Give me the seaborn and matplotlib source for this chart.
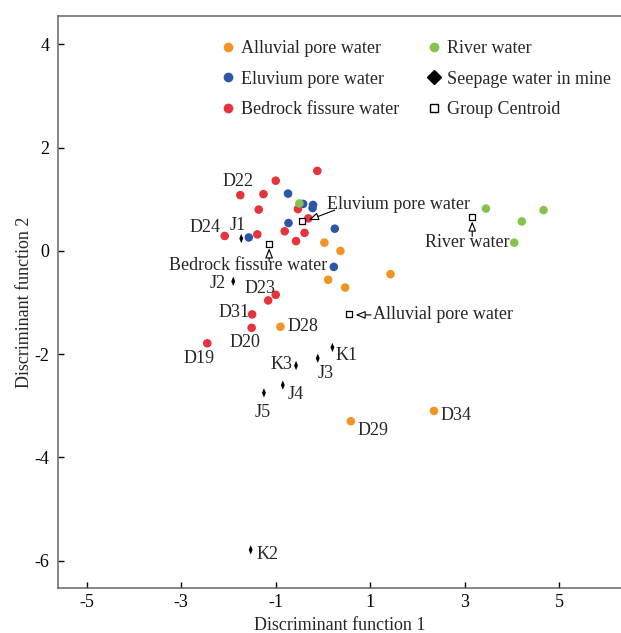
import matplotlib.pyplot as plt
import pandas as pd
import seaborn as sns
from matplotlib.lines import Line2D

# sample scores on the two discriminant functions
alluvial_x = [0.03, 0.37, 1.43, 0.11, 0.47, -0.90, 2.35, 0.59]
alluvial_y = [0.16, 0.00, -0.45, -0.56, -0.71, -1.47, -3.10, -3.30]
eluvium_x = [-0.74, -0.42, -0.21, -0.22, -0.73, 0.25, -1.57, 0.23]
eluvium_y = [1.11, 0.91, 0.89, 0.83, 0.54, 0.43, 0.26, -0.31]
bedrock_x = [-0.12, -1.00, -1.75, -1.26, -1.36, -0.53, -0.31, -2.08, -1.39,
             -0.81, -0.39, -0.57, -1.00, -1.16, -1.50, -1.51, -2.45]
bedrock_y = [1.55, 1.36, 1.08, 1.10, 0.80, 0.81, 0.63, 0.29, 0.32,
             0.38, 0.35, 0.19, -0.85, -0.96, -1.23, -1.49, -1.79]
river_x = [-0.50, 3.45, 4.67, 4.21, 4.05]
river_y = [0.92, 0.82, 0.79, 0.57, 0.16]
seepage_x = [-1.73, -1.90, 0.20, -0.11, -0.57, -0.85, -1.25, -1.53]
seepage_y = [0.24, -0.59, -1.87, -2.08, -2.22, -2.60, -2.75, -5.79]

centroid_names = ["Eluvium pore water", "Bedrock fissure water", "River water", "Alluvial pore water"]
centroid_x = [-0.44, -1.14, 3.16, 0.56]
centroid_y = [0.58, 0.14, 0.66, -1.23]

# sample labels
label_text = ["D22", "D24", "J1", "J2", "D23", "D31", "D28", "D20", "D19",
              "K3", "K1", "J3", "J4", "J5", "D34", "D29", "K2"]
label_x = [-1.80, -2.50, -1.80, -2.22, -1.33, -1.89, -0.42, -1.65, -2.63,
           -0.87, 0.49, 0.06, -0.57, -1.27, 2.82, 1.06, -1.17]
label_y = [1.34, 0.45, 0.50, -0.64, -0.72, -1.20, -1.47, -1.78, -2.09,
           -2.21, -2.02, -2.38, -2.79, -3.14, -3.18, -3.47, -5.89]

groups = ["Alluvial pore water", "Eluvium pore water", "Bedrock fissure water", "River water"]
colors = {"Alluvial pore water": "#f39325", "Eluvium pore water": "#2f55a8",
          "Bedrock fissure water": "#e5323b", "River water": "#86c34d"}

df = pd.DataFrame({
    "x": alluvial_x + eluvium_x + bedrock_x + river_x,
    "y": alluvial_y + eluvium_y + bedrock_y + river_y,
    "group": [groups[0]] * len(alluvial_x) + [groups[1]] * len(eluvium_x)
             + [groups[2]] * len(bedrock_x) + [groups[3]] * len(river_x),
})
df_seep = pd.DataFrame({"x": seepage_x, "y": seepage_y})
df_cent = pd.DataFrame({"x": centroid_x, "y": centroid_y, "name": centroid_names})

sns.set_style("ticks")
plt.rcParams["font.family"] = ["Liberation Serif", "DejaVu Serif"]
plt.rcParams["font.size"] = 13
plt.rcParams["axes.unicode_minus"] = False

fig = plt.figure(figsize=(6.21, 6.33), dpi=100)
ax = fig.add_axes([0.0934, 0.0711, 0.9066, 0.9036])

thin_diamond = [(0, 1), (0.42, 0), (0, -1), (-0.42, 0), (0, 1)]

sns.scatterplot(data=df, x="x", y="y", hue="group", hue_order=groups, palette=colors,
                s=38, edgecolor="none", legend=False, ax=ax, zorder=3)
sns.scatterplot(data=df_seep, x="x", y="y", marker=thin_diamond, color="black",
                s=45, edgecolor="none", legend=False, ax=ax, zorder=3)
sns.scatterplot(data=df_cent, x="x", y="y", marker="s", s=20, facecolor="white",
                edgecolor="black", linewidth=0.9, legend=False, ax=ax, zorder=4)

for t, x, y in zip(label_text, label_x, label_y):
    ax.text(x, y, t, ha="center", va="center", fontsize=13)

# centroid annotations with open arrowheads
arrow = dict(arrowstyle="-|>,head_length=0.45,head_width=0.18", fc="white", ec="black",
             lw=0.8, shrinkA=0, shrinkB=0)
ax.annotate("", xy=(-0.30, 0.60), xytext=(0.25, 0.79), arrowprops=arrow)
ax.text(0.08, 0.89, "Eluvium pore water", ha="left", va="center", fontsize=13)
ax.annotate("", xy=(-1.14, 0.05), xytext=(-1.14, -0.20), arrowprops=arrow)
ax.text(-1.58, -0.28, "Bedrock fissure water", ha="center", va="center", fontsize=13)
ax.annotate("", xy=(3.16, 0.57), xytext=(3.16, 0.28), arrowprops=arrow)
ax.text(2.16, 0.16, "River water", ha="left", va="center", fontsize=13)
ax.annotate("", xy=(0.69, -1.24), xytext=(1.02, -1.24), arrowprops=arrow)
ax.text(1.06, -1.24, "Alluvial pore water", ha="left", va="center", fontsize=13)

ax.set_xlim(-5.61, 6.31)
ax.set_ylim(-6.53, 4.55)
ax.set_xticks([-5, -3, -1, 1, 3, 5])
ax.set_yticks([-6, -4, -2, 0, 2, 4])
ax.tick_params(direction="in", length=4, width=1, colors="black", labelsize=13)
ax.tick_params(axis="y", pad=6)
ax.tick_params(axis="x", pad=4)
for side in ["left", "bottom", "top"]:
    ax.spines[side].set_color("#666666")
    ax.spines[side].set_linewidth(1.1)
ax.spines["right"].set_visible(False)
ax.set_xlabel("Discriminant function 1", fontsize=13, labelpad=5)
ax.set_ylabel("Discriminant function 2", fontsize=13, labelpad=1)

handles = [Line2D([], [], ls="none", marker="o", ms=7, mfc=colors[g], mec="none") for g in groups[:3]]
handles += [Line2D([], [], ls="none", marker="o", ms=7, mfc=colors["River water"], mec="none"),
            Line2D([], [], ls="none", marker="D", ms=7, mfc="black", mec="black"),
            Line2D([], [], ls="none", marker="s", ms=6, mfc="white", mec="black", mew=1)]
names = groups[:3] + ["River water", "Seepage water in mine", "Group Centroid"]
ax.legend(handles, names, ncol=2, loc="upper left", bbox_to_anchor=(0.257, 0.986),
          frameon=False, handletextpad=0.2, columnspacing=1.45, labelspacing=0.75,
          handlelength=1.0, fontsize=13)

fig.savefig("out.png", dpi=100)
